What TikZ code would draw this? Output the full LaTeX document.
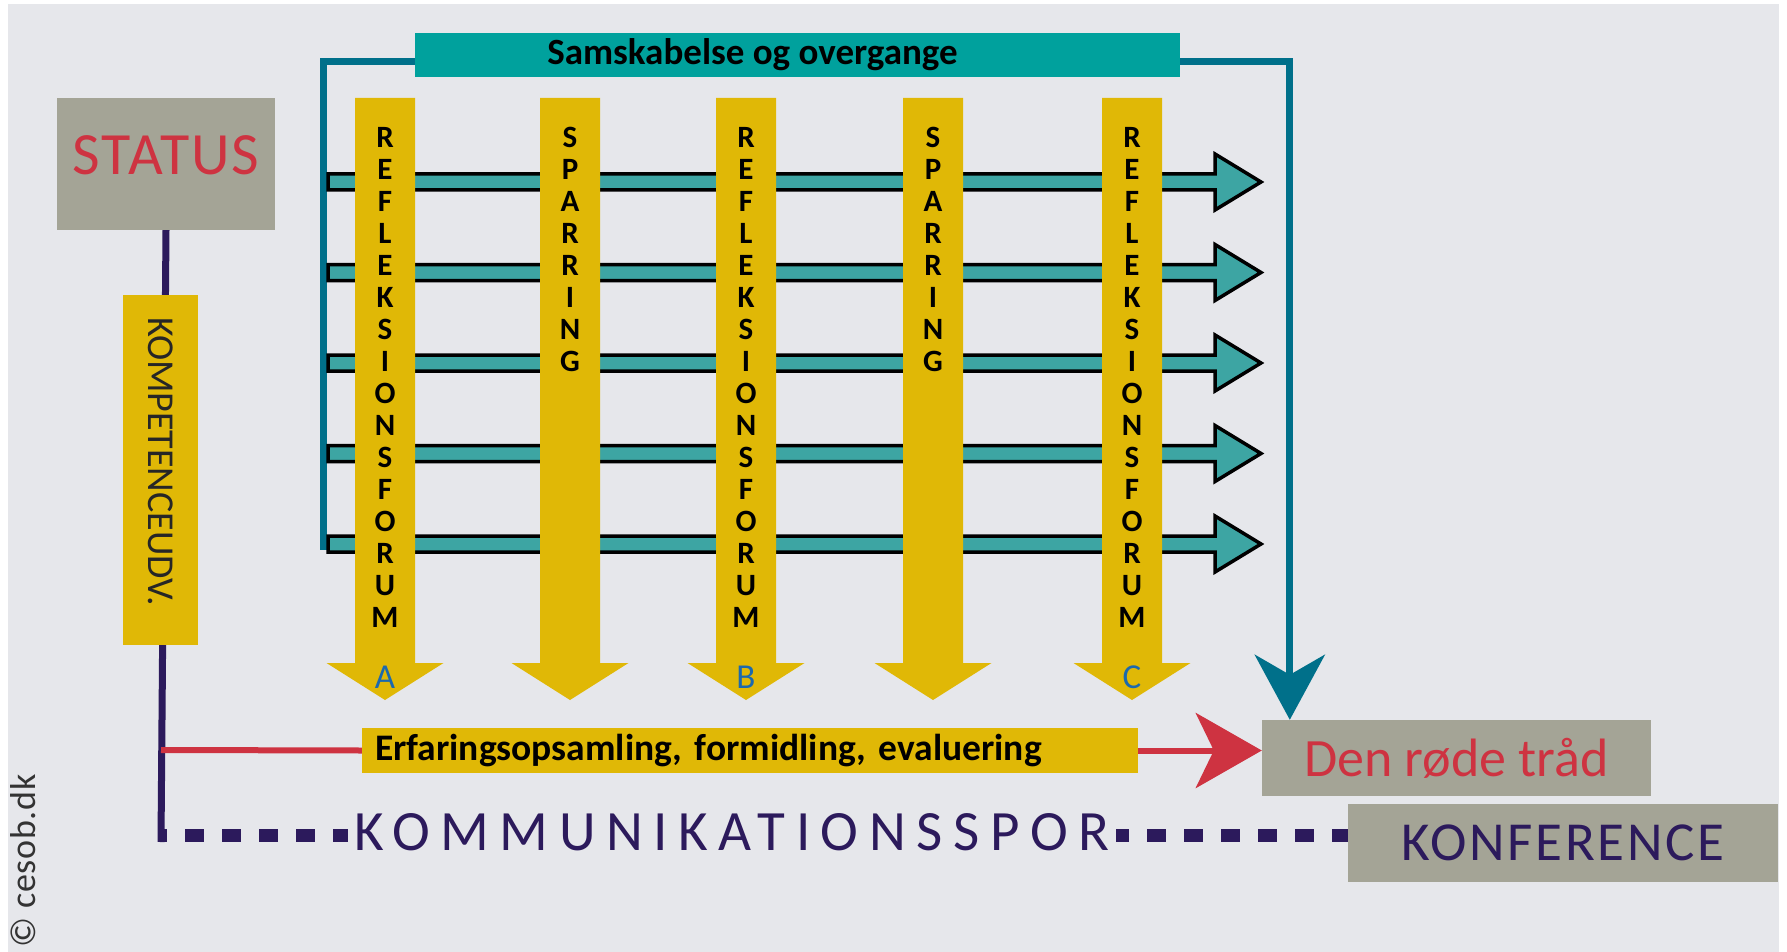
\documentclass[tikz,border=0pt]{standalone}
\usepackage{fontspec}
\setmainfont{Carlito}
\usepackage{tikz}
\usetikzlibrary{positioning, arrows.meta, backgrounds}
\definecolor{bggrey}{HTML}{E6E7EB}
\definecolor{boxgrey}{HTML}{A4A496}
\definecolor{redtxt}{HTML}{CE3341}
\definecolor{purp}{HTML}{2C1A5C}
\definecolor{gold}{HTML}{E0B806}
\definecolor{tealbox}{HTML}{00A19D}
\definecolor{framecol}{HTML}{00708A}
\definecolor{barteal}{HTML}{3DA5A3}
\definecolor{abcblue}{HTML}{1B69AE}

\begin{document}
\begin{tikzpicture}[x = 1pt, y = -1pt,
  box/.style = {fill = boxgrey, inner sep = 0pt},
  goldbox/.style = {fill = gold, inner sep = 0pt},
  letters/.style = {align = center, anchor = north, inner sep = 0pt, font = \fontsize{31}{32}\selectfont\bfseries},
  abc/.style = {text = abcblue, inner sep = 0pt, font = \fontsize{35}{36}\selectfont},
  frame/.style = {draw = framecol, line width = 7pt},
  track/.style = {draw = purp, line width = 7pt},
  redline/.style = {draw = redtxt, line width = 6pt},
  dots/.style = {draw = purp, line width = 13pt, dash pattern = on 19pt off 18pt, dash phase = 13pt},
  bar/.style = {draw = black, fill = barteal, line width = 3.5pt}]
  \useasboundingbox (0,0) rectangle (1787,952);

  % bars and arrows
  \foreach \y in {182, 272.5, 363, 453.5, 544}
    \draw [bar] (328,\y-8) -- (1215,\y-8) -- (1215,\y-28) -- (1261,\y) -- (1215,\y+28) -- (1215,\y+8) -- (328,\y+8) -- cycle;
  \foreach \x in {385, 570, 746, 933, 1132}
    \fill [gold] (\x-30,98) -- (\x+30,98) -- (\x+30,663) -- (\x+58.5,663) -- (\x,700) -- (\x-58.5,663) -- (\x-30,663) -- cycle;

  % nodes
  \node [letters] (refa) at (385,127) {R\\E\\F\\L\\E\\K\\S\\I\\O\\N\\S\\F\\O\\R\\U\\M};
  \node [letters] (spara) at (570,127) {S\\P\\A\\R\\R\\I\\N\\G};
  \node [letters] (refb) at (746,127) {R\\E\\F\\L\\E\\K\\S\\I\\O\\N\\S\\F\\O\\R\\U\\M};
  \node [letters] (sparb) at (933,127) {S\\P\\A\\R\\R\\I\\N\\G};
  \node [letters] (refc) at (1132,127) {R\\E\\F\\L\\E\\K\\S\\I\\O\\N\\S\\F\\O\\R\\U\\M};
  \node [abc] (laba) at (385,677) {A};
  \node [abc] (labb) at (746,677) {B};
  \node [abc] (labc) at (1132,677) {C};

  \node [box, minimum width = 218pt, minimum height = 132pt, text = redtxt, text depth = 18pt,
    font = \fontsize{60}{62}\selectfont\addfontfeature{LetterSpace=3}] (status) at (166,164) {STATUS};
  \node [goldbox, rotate = -90, minimum width = 350pt, minimum height = 75pt, text = black!85,
    font = \fontsize{38}{40}\selectfont] (komp) at (160.5,470) {KOMPETENCEUDV.\hspace*{17pt}};
  \node [box, fill = tealbox, minimum width = 765pt, minimum height = 44pt,
    font = \fontsize{37}{40}\selectfont\bfseries] (sams) at (797.5,55) {Samskabelse og overgange\hspace*{90pt}};
  \node [goldbox, minimum width = 776pt, minimum height = 45pt, text width = 750pt, align = left,
    font = \fontsize{37.5}{40}\selectfont\bfseries\frenchspacing] (erf) at (750,750.5) {Erfaringsopsamling, formidling, evaluering};
  \node [box, minimum width = 389pt, minimum height = 76pt, text = redtxt,
    font = \fontsize{54}{56}\selectfont] (rode) at (1456.5,758) {Den røde tråd};
  \node [box, minimum width = 430pt, minimum height = 78pt, text = purp,
    font = \fontsize{55}{56}\selectfont\addfontfeature{LetterSpace=5}] (konf) at (1563,843) {KONFERENCE};
  \node [fill = bggrey, inner xsep = 7pt, inner ysep = 2pt, text = purp,
    font = \fontsize{57}{58}\selectfont\addfontfeature{LetterSpace=18.5}] (spor) at (732,832) {KOMMUNIKATIONSSPOR};
  \node [rotate = 90, inner sep = 0pt, text = black!80,
    font = \fontsize{36}{38}\selectfont\addfontfeature{LetterSpace=2}] (copy) at (23,861) {© cesob.dk};

  \coordinate (fleft) at (323,550);
  \coordinate (kred) at (161,750);
  \coordinate (kcorner) at (161,835);
  \coordinate (kbottom) at (161,842);

  % edges
  \begin{scope}[on background layer]
    \fill [white] (0,0) rectangle (1787,952);
    \fill [bggrey] (8,4) rectangle (1779,952);
    \draw [frame] ([yshift = -7pt]sams.west) -| (fleft);
    \draw [frame, -{Stealth[length = 65pt, width = 70pt, inset = 20pt]}] ([yshift = -7pt]sams.east) -| ([xshift = 28pt]rode.north west);
    \draw [track] (status.south) -- (kbottom);
    \draw [redline] (kred) -- (erf.west);
    \draw [redline, -{Stealth[length = 66pt, width = 75pt, inset = 18pt]}] (erf.east) -- (erf.east -| rode.west);
    \draw [dots] (kcorner) -- (kcorner -| konf.west);
  \end{scope}
\end{tikzpicture}
\end{document}
